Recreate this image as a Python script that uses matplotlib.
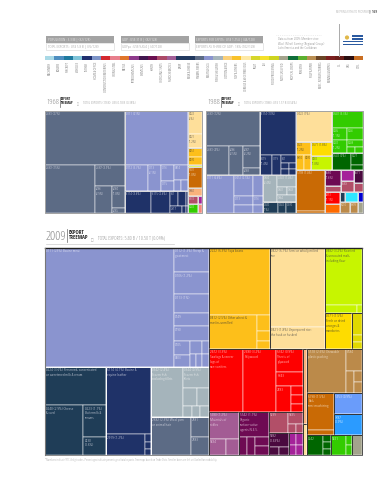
import matplotlib
matplotlib.use("Agg")
import matplotlib.pyplot as plt
from matplotlib.patches import Rectangle, Circle

plt.rcParams['font.family'] = ['Open Sans', 'DejaVu Sans']
plt.rcParams['font.stretch'] = 'condensed'
plt.rcParams['font.weight'] = 'light'
BOLD = ['Open Sans Condensed', 'DejaVu Sans']


def row(*kids):
    return {"dir": "h", "kids": list(kids)}


def col(*kids):
    return {"dir": "v", "kids": list(kids)}


def sec(name, node):
    return {"sector": name, "node": node}


# sector colours: fill, text
sectors = {
    "wool": ("#5c6b85", "#e8e8f0"),
    "meat": ("#8a94cf", "#f2f2fa"),
    "navy": ("#1f3268", "#e8e8f0"),
    "dairy": ("#1f3d57", "#e8e8f0"),
    "fish": ("#a5b4bb", "#f5f5f5"),
    "soy": ("#fdbf1a", "#333333"),
    "cereal": ("#fedf9a", "#444444"),
    "malt": ("#c7f500", "#444444"),
    "fruit": ("#fedc00", "#333333"),
    "olive": ("#e0d800", "#333333"),
    "wood": ("#fe0000", "#ffe8e8"),
    "mauve": ("#a35c94", "#f5e8f2"),
    "plum": ("#6e0a53", "#f5e8f2"),
    "rose": ("#b24f68", "#f5e8f2"),
    "deep": ("#4a0a3f", "#f5e8f2"),
    "magenta": ("#a5229a", "#f5e8f2"),
    "tan": ("#bb8a4a", "#fbf2e4"),
    "burnt": ("#c96a05", "#fbf2e4"),
    "peach": ("#f9b27c", "#444444"),
    "corn": ("#6a9cfa", "#ffffff"),
    "azure": ("#2b9bff", "#ffffff"),
    "dkgreen": ("#006600", "#e8f5e8"),
    "green": ("#33cc00", "#f0fff0"),
    "greige": ("#a3a38c", "#f5f5f5"),
    "cyan": ("#2fe6ff", "#333333"),
    "blue": ("#0000d0", "#ffffff"),
    "orange": ("#fe6a00", "#ffffff"),
    "salmon": ("#f4877c", "#ffffff"),
}

# 1968
wool_1968 = col(("2681 (27%)", 26.98),
                row(("2682 (15%)", 14.99),
                    col(("2687 (3.9%)", 3.93),
                        row(("2686\n(2.9%)", 2.87),
                            col(("2684\n(1.8%)", 1.79), ("2685", 0.41))))))
meat_1968 = col(("0111 (21%)", 21.24),
                row(("0112 (3.7%)", 3.73), ("0113\n(2.1%)", 2.11),
                    col(("0116", 1.30), ("0115", 0.81)),
                    col(("0814", 1.31), row(("", 0.48), ("", 0.48)))))
leather_1968 = row(("6114 (3.6%)", 3.57), ("6115 (2.6%)", 2.61),
                   col(row(("611", 0.75), ("", 0.75), ("", 0.19)),
                       row(("2917", 0.52), ("", 0.17), ("", 0.09))))
side_1968 = [sec("cereal", col(("0422\n(2%)", 2.01), ("0421\n(1.2%)", 1.22))),
             sec("soy", col(("0451", 0.79), ("0430", 0.70))),
             sec("malt", ("", 0.17)),
             sec("burnt", ("5001\n(1.8%)", 1.84)),
             sec("peach", ("0360", 0.70)),
             row(sec("rose", ("7932", 0.50)), sec("magenta", ("", 0.20))),
             row(sec("green", ("0542", 0.56)), sec("salmon", ("", 0.22)))]
tree_1968 = row(sec("wool", wool_1968),
                col(sec("meat", meat_1968), sec("navy", leather_1968)),
                col(*side_1968))

# 1988
wool_1988 = col(("2682 (12%)", 11.8),
                row(("2681 (4%)", 4.02), ("2686\n(2.5%)", 2.45),
                    col(("2687\n(2.2%)", 2.23), ("2688", 0.74))))
leather_1988 = col(("6114 (10%)", 9.89),
                   row(("6119\n(1.4%)", 1.42), ("7119", 1.07),
                       col(("611", 0.66), row(("", 0.30), ("", 0.26)),
                           row(("", 0.30), ("", 0.26)))))
meat_1988 = row(("0111 (6.6%)", 6.64),
                col(row(("0452 (2.5%)", 2.49), ("", 1.31)),
                    row(col(("0113", 1.07), ("", 0.95)),
                        col(("0116", 0.56), ("", 0.50)))))
fish_1988 = row(("0344\n(2.4%)", 2.36),
                col(("0342 (1.4%)", 1.42),
                    row(("0341", 0.50), ("0343", 0.45)), ("0364", 0.83)))
dairy_1988 = row(("0240\n(1%)", 1.03), ("0242", 0.55), ("0230", 0.69))
grain_1988 = col(sec("cereal", ("0422 (7%)", 6.97)),
                 row(sec("soy", col(("0222\n(1.2%)", 1.22),
                                    row(("0910", 0.75), ("0430", 0.66)))),
                     col(sec("fruit", ("0571 (1.8%)", 1.84)),
                         sec("malt", ("0482\n(1.8%)", 1.84)))))
green_1988 = col(sec("green", col(("0541 (3.3%)", 3.29),
                                  row(col(("0545\n(1.1%)", 1.12), ("0542\n(1.2%)", 1.22)),
                                      col(("0546", 1.20), ("0548", 0.70),
                                          row(("", 0.30), ("", 0.30)))))),
                 sec("dkgreen", row(("0542 (2%)", 2.02),
                                    col(("0527", 0.90), ("", 0.37)))))
purple_1988 = row(col(sec("plum", ("6584\n(1.6%)", 1.60)), sec("rose", ("", 0.60))),
                  col(sec("magenta", ("", 0.89)), sec("rose", ("6589", 0.89))),
                  col(sec("deep", ("6571", 0.73)), sec("rose", ("", 0.51))))
misc_1988 = row(col(sec("wood", ("6251\n(1.1%)", 1.12)), sec("orange", ("", 0.84))),
                col(row(sec("dairy", ("", 0.31)), sec("cyan", ("", 0.81)), sec("blue", ("", 0.31))),
                    row(sec("tan", ("8510", 0.69)), sec("tan", ("8999", 0.55)),
                        sec("greige", ("", 0.34)))))
tree_1988 = row(col(row(sec("wool", wool_1988), sec("navy", leather_1988)),
                    row(sec("meat", meat_1988),
                        col(sec("fish", fish_1988), sec("dairy", dairy_1988)))),
                col(row(grain_1988, green_1988),
                    row(sec("burnt", col(("5798 (7.4%)", 7.42), ("", 0.36))),
                        col(purple_1988, misc_1988))))

# 2009
meat_2009 = row(("0111 (23%) Bovine meat", 23.2),
                col(("0112 (1.3%) Sheep &\ngoat meat", 1.28), ("0106 (1.2%)", 1.17),
                    ("0113 (1%)", 1.01), ("0149", 0.69), ("0190", 0.80),
                    row(col(("0105", 0.32), ("0903", 0.29)),
                        col(row(("", 0.24), ("", 0.14)),
                            row(("", 0.11), ("", 0.11), ("", 0.13))))))
dairy_2009 = col(("0224 (3.6%) Preserved, concentrated\nor sweetened milk & cream", 3.57),
                 row(("0240 (2.9%) Cheese\n& curd", 2.90),
                     col(("0223 (1.1%)\nButtermilk &\ncreams", 1.07), ("0230\n(0.6%)", 0.60))))
leather_2009 = col(("6114 (4.7%) Bovine &\nequine leather", 4.66),
                   row(("2919 (1.2%)", 1.25),
                       col(("", 0.07), ("", 0.064), ("", 0.055))))
fish_2009 = row(("0342 (2.4%)\nFrozen fish\nexcluding fillets", 2.41),
                col(("0344 (0.9%)\nFrozen fish\nfillets", 0.87),
                    row(("", 0.38), ("", 0.33)),
                    row(("", 0.15), ("", 0.13), ("", 0.15))))
wool_2009 = row(("2682 (2.3%) Wool yarn\nor animal hair", 2.32),
                col(("2681", 0.55), ("2683", 0.49)))
soy_2009 = col(("2222 (6.3%) Soya beans", 6.23),
               row(("0412 (2.5%) Other wheat &\nmeslin, unmilled", 2.49),
                   col(("", 0.32), ("", 0.20), ("", 0.16))))
cereal_2009 = col(("0422 (6.7%) Semi or wholly milled\nrice", 6.62),
                  ("0421 (1.8%) Unprepared rice:\nthe husk or husked", 1.84))
malt_2009 = col(("0482 (3.2%) Roasted\n& unroasted malt,\nincluding flour", 3.21),
                row(("", 0.39), ("", 0.06)))
fruit_2009 = ("0571 (1.5%)\nFresh or dried\noranges &\nmandarins", 1.48)
olive_2009 = col(("", 0.34), ("", 0.11), ("", 0.11))
wood_2009 = row(("2472 (3.3%)\nSawlogs & veneer\nlogs of\nnon-conifers", 3.27),
                ("2480 (3.2%)\nPolywood", 3.17),
                col(("6342 (0.9%)\nSheets of\nplywood", 0.95), ("6343", 0.58),
                    row(("2483", 0.59), col(("", 0.16), ("", 0.16), ("", 0.15)))))
mauve_2009 = col(("5980 (1.2%)\nMaterials of\nnickles", 1.23),
                 row(("5834", 0.41), ("", 0.32)))
plum_2009 = col(("5542 (1.1%)\nOrganic\nsurface-active\nagents N.E.S.", 1.14),
                row(("", 0.22), ("", 0.22), col(("", 0.19), ("", 0.19))))
rose_2009 = row(("5239", 0.61),
                col(("5835", 0.27), row(("", 0.11), ("", 0.10))))
deep_2009 = col(("5982\n(0.43%)", 0.43), row(("", 0.12), ("", 0.12)))
magenta_2009 = col(row(("", 0.13), ("", 0.13)), row(("", 0.11), ("", 0.11)))
tan_2009 = row(("5518 (2.6%) Chewable\nplastic packing", 2.62),
               col(("8584", 0.54),
                   row(("", 0.27), col(("", 0.13), ("", 0.13)))))
burnt_2009 = col(("6798 (1.5%)\nBolt,\nsemi-machining", 1.52), ("", 0.21))
green_2009 = row(sec("dkgreen", row(("0542", 0.46),
                                    col(("", 0.085), ("", 0.085), ("", 0.07)))),
                 sec("green", row(("5421", 0.46), col(("", 0.09), ("", 0.09)))),
                 sec("greige", ("", 0.30)))
left_2009 = col(sec("meat", meat_2009),
                row(sec("dairy", dairy_2009), sec("navy", leather_2009),
                    col(sec("fish", fish_2009), sec("wool", wool_2009))))
right_2009 = col(row(sec("soy", soy_2009), sec("cereal", cereal_2009),
                     col(sec("malt", malt_2009),
                         row(sec("fruit", fruit_2009), sec("olive", olive_2009)))),
                 row(col(sec("wood", wood_2009),
                         row(sec("mauve", mauve_2009), sec("plum", plum_2009),
                             col(sec("rose", rose_2009),
                                 row(sec("deep", deep_2009), sec("magenta", magenta_2009))))),
                     col(sec("peach", ("", 0.46)), sec("cereal", ("", 0.19))),
                     col(sec("tan", tan_2009),
                         row(sec("burnt", burnt_2009),
                             col(sec("corn", ("5953 (0.9%)", 0.90)),
                                 sec("azure", ("3387\n(0.9%)", 0.90)))),
                         green_2009)))

bar_colors = ["#a9d9e6", "#4f8fc0", "#1f7a9f", "#7fc4d9", "#1f2f6e", "#7d94c8", "#d4282e",
              "#e87f8c", "#e0752a", "#8e3a8c", "#42164f", "#6a1050", "#ac4a68", "#a25f98",
              "#22395f", "#22395f", "#5c6b85", "#8a94cf", "#a5b4bb", "#fbd079", "#f9c22a",
              "#fee9a5", "#d6d62a", "#f5e12a", "#cdd41f", "#a3a38c", "#0f6e3a", "#5cb030",
              "#b98e52", "#6b4526", "#7c2020", "#6b1f1a", "#2b0f10", "#c96e22"]
bar_labels = ["MACHINERY", "BOILERS", "AIRCRAFT", "VEHICLES", "LEATHER", "HOME & OFFICE",
              "CONSTRUCTION MATERIALS", "IRON & STEEL", "METALS", "PETROCHEMICALS",
              "CHEMICALS", "HEALTH", "INORGANIC SALTS", "AGROCHEMICALS", "DAIRY",
              "MILK & CHEESE", "ANIMAL FIBERS", "MEAT & EGGS", "FISH & SHELLFISH",
              "COTTON & RICE", "SOY & OTHERS", "CEREALS & VEGETABLE OILS", "FRUIT", "TEA",
              "FOOD PROCESSING", "NOT CLASSIFIED", "TROPICAL CROPS", "FORESTRY",
              "PULP & PAPER", "MISC. MANUFACTURING", "MINING & METALS", "OIL", "GAS", "COAL"]
box_heads = ["POPULATION : 3.3 M | (92/128)", "GDP : US$ 31 B | (82/128)",
             "EXPORTS PER CAPITA : US$ 1,754 | (44/128)"]
box_rows = ["TOTAL EXPORTS : US$ 5.8 B | (76/128)", "GDPpc : US$ 9,654 | (47/128)",
            "EXPORTS AS SHARE OF GDP : 18% (102/128)"]
note_lines = ["Data as from 2009: Member since", "Wool (Meat) Earning (Regional Group)",
              "Latin America and the Caribbean"]
footnote = ("*Numbers indicate SITC 4-digit codes. Percentages indicate percentage of total "
            "exports. Treemaps based on Trade Data. Smaller boxes are left unlabeled for readability.")


def size(node):
    if isinstance(node, tuple):
        return node[1]
    if "sector" in node:
        return size(node["node"])
    return sum(size(k) for k in node["kids"])


def draw_tree(ax, node, x, y, w, h, fs, sector=None, outline="white"):
    if isinstance(node, tuple):
        fc, tc = sectors[sector]
        ax.add_patch(Rectangle((x, y), w, h, fc=fc, ec="white", lw=0.35))
        if node[0]:
            ax.text(x + 1.2, y + 1.4, node[0], fontsize=fs, color=tc, va="top", ha="left",
                    linespacing=1.25, weight="normal")
        return
    if "sector" in node:
        draw_tree(ax, node["node"], x, y, w, h, fs, node["sector"], outline)
        ax.add_patch(Rectangle((x, y), w, h, fc="none", ec=outline, lw=0.7))
        return
    total = size(node)
    pos = 0
    for k in node["kids"]:
        frac = size(k) / total
        if node["dir"] == "h":
            draw_tree(ax, k, x + pos * w, y, frac * w, h, fs, sector, outline)
        else:
            draw_tree(ax, k, x, y + pos * h, w, frac * h, fs, sector, outline)
        pos += frac


fig = plt.figure(figsize=(3.87, 4.8), dpi=100)
ax = fig.add_axes([0, 0, 1, 1])
ax.set_xlim(0, 387)
ax.set_ylim(480, 0)
ax.axis("off")

# page header
ax.text(371, 12, "MAPPING PATHS TO PROSPERITY", fontsize=2.5, color="#999999", ha="right", va="center")
ax.text(377, 12, "| 169", fontsize=2.8, color="#555555", ha="right", va="center", family=BOLD, weight="bold")

# stat boxes
for i in range(3):
    x0 = 46 + i * 74.5
    ax.add_patch(Rectangle((x0, 36), 68, 7, fc="#a3a3a3", ec="none"))
    ax.add_patch(Rectangle((x0, 43), 68, 7, fc="white", ec="#dddddd", lw=0.5))
    ax.text(x0 + 1.5, 39.5, box_heads[i], fontsize=3.0, color="white", va="center", weight="normal")
    ax.text(x0 + 1.5, 46.7, box_rows[i], fontsize=3.0, color="#8f8f8f", va="center")

ax.plot([276, 322], [35, 35], color="#dddddd", lw=0.5, ls=":")
for i, line in enumerate(note_lines):
    ax.text(278, 39.5 + i * 4.3, line, fontsize=2.7, color="#777777", va="center")

# flag
ax.plot([338.5, 338.5], [24, 56], color="#aaaaaa", lw=0.7)
ax.add_patch(Rectangle((343, 34), 20, 12.5, fc="white", ec="none"))
for i in range(1, 9, 2):
    ax.add_patch(Rectangle((343 + (8.5 if i < 5 else 0), 34 + i * 12.5 / 9),
                           20 - (8.5 if i < 5 else 0), 12.5 / 9, fc="#2b5aa0", ec="none"))
ax.add_patch(Circle((347, 37.5), 2.1, fc="#e0b84a", ec="none"))

# colour legend
n = len(bar_colors)
seg = (363 - 45) / n
for i in range(n):
    ax.add_patch(Rectangle((45 + i * seg, 56), seg, 3.5, fc=bar_colors[i], ec="none"))
    ax.text(45 + (i + 0.5) * seg, 62, bar_labels[i], rotation=90, fontsize=2.5,
            color="#444444", ha="center", va="top")

# headings: year, divider, title block, arrow, total
for x, y, label, total in [(46, 102, "1968", "TOTAL EXPORTS (1968): US$ 0.18 B (0.38%)"),
                           (207, 102, "1988", "TOTAL EXPORTS (1988): US$ 1.57 B (0.54%)")]:
    ax.text(x, y, label, fontsize=5.8, color="#8a8a8a", va="center", ha="left")
    ax.plot([x + 13.5, x + 13.5], [y - 5, y + 5], color="#666666", lw=0.5)
    ax.text(x + 15.2, y - 0.8, "EXPORT\nTREEMAP", fontsize=2.5, color="#222222", va="center",
            ha="left", family=BOLD, weight="bold", linespacing=1.05)
    ax.text(x + 31.5, y + 1.8, "\u25bc", fontsize=2.2, color="#999999", va="center", ha="center",
            family="DejaVu Sans", stretch="normal")
    ax.text(x + 37, y + 1.5, total, fontsize=2.7, color="#8a8a8a", va="center", ha="left")

ax.text(46, 236, "2009", fontsize=9.3, color="#8a8a8a", va="center", ha="left")
ax.plot([67, 67], [229, 242], color="#666666", lw=0.5)
ax.text(69, 235, "EXPORT\nTREEMAP", fontsize=3.9, color="#222222", va="center", ha="left",
        family=BOLD, weight="bold", linespacing=1.1)
ax.text(92, 239.5, "\u25bc", fontsize=3.0, color="#999999", va="center", ha="center",
        family="DejaVu Sans", stretch="normal")
ax.text(98, 238.5, "TOTAL EXPORTS: 5.80 B / 10.50 T (0.04%)", fontsize=3.7, color="#8a8a8a",
        va="center", ha="left")
ax.plot([46, 174], [243.5, 243.5], color="#cccccc", lw=0.5)

# treemaps
draw_tree(ax, tree_1968, 45, 111, 157, 102, 2.7, outline="#dddddd")
draw_tree(ax, tree_1988, 206, 111, 157, 102, 2.7, outline="#dddddd")
ax.add_patch(Rectangle((45, 111), 157, 102, fc="none", ec="#999999", lw=0.6))
ax.add_patch(Rectangle((206, 111), 157, 102, fc="none", ec="#999999", lw=0.6))

draw_tree(ax, left_2009, 45, 248, 164, 207, 3.1, outline="white")
draw_tree(ax, right_2009, 209, 248, 153, 207, 3.1, outline="#333333")
ax.plot([45, 362], [248, 248], color="#222222", lw=1.0)
ax.plot([45, 45], [248, 455], color="#777777", lw=0.8)
ax.plot([362, 362], [248, 455], color="#555555", lw=0.6)
ax.plot([45, 362], [455, 455], color="#777777", lw=0.6)

ax.text(45, 459.5, footnote, fontsize=2.3, color="#999999", va="center", ha="left")

fig.savefig("out.png", dpi=100)
